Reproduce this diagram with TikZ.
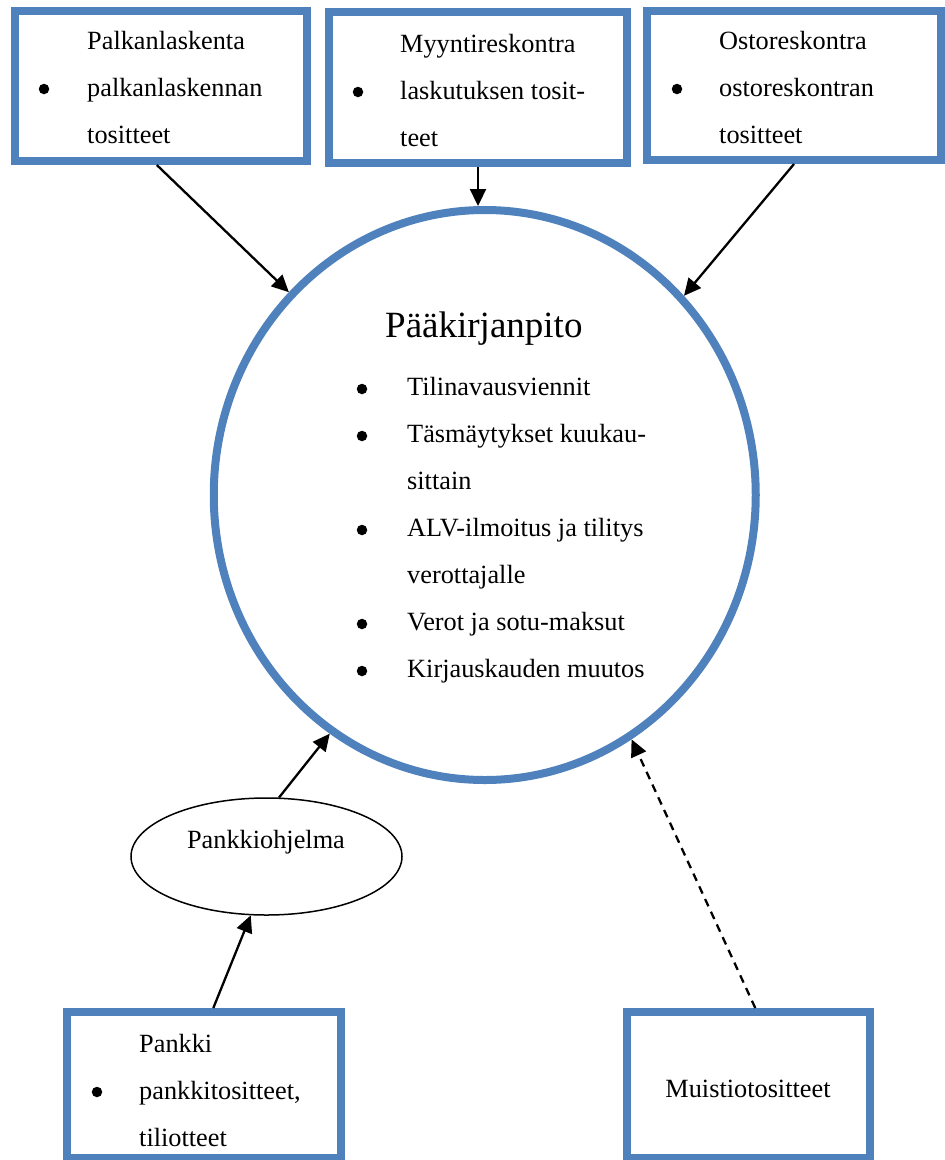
\documentclass[tikz,border=0pt]{standalone}
\usepackage{fontspec}
\setmainfont{Liberation Serif}
\usetikzlibrary{shapes.geometric,arrows.meta,calc}
\definecolor{boxblue}{RGB}{79,129,189}
\begin{document}
\begin{tikzpicture}[x=1pt,y=-1pt,
  bluebox/.style={draw=boxblue,line width=8pt,inner sep=0pt,fill=white},
  txt/.style={anchor=base west,inner sep=0pt,font=\fontsize{26.3}{30}\selectfont},
  ctxt/.style={anchor=base,inner sep=0pt,font=\fontsize{26.3}{30}\selectfont},
  bigtxt/.style={anchor=base west,inner sep=0pt,font=\fontsize{37}{42}\selectfont},
  bul/.style={circle,fill=black,inner sep=0pt,minimum size=10.5pt},
  conn/.style={line width=2.3pt,-{Triangle[length=17pt,width=16pt]}},
  dconn/.style={conn,dash pattern=on 8pt off 6pt}]
\useasboundingbox (0,0) rectangle (945,1160);

% main circle
\node[ellipse,draw=boxblue,line width=8pt,minimum width=542pt,minimum height=570pt,inner sep=0pt] (main) at (484.75,495) {};

% boxes
\node[bluebox,minimum width=292pt,minimum height=150pt] (b1) at (161,86) {};
\node[bluebox,minimum width=298pt,minimum height=151pt] (b2) at (478,87.5) {};
\node[bluebox,minimum width=294pt,minimum height=149pt] (b3) at (794,85.5) {};
\node[bluebox,minimum width=274pt,minimum height=146pt] (b4) at (204,1085) {};
\node[bluebox,minimum width=243pt,minimum height=146pt] (b5) at (748.5,1085) {};

% small ellipse
\node[ellipse,draw=black,line width=1.5pt,minimum width=271pt,minimum height=117pt,inner sep=0pt] (pank) at (266.5,856.5) {};

% box 1 text
\node[txt] (t1a) at (87,49) {Palkanlaskenta};
\node[bul] (u1) at (44,89) {};
\node[txt] (t1b) at (87,96) {palkanlaskennan};
\node[txt] (t1c) at (87,143) {tositteet};

% box 2 text
\node[txt] (t2a) at (400,52) {Myyntireskontra};
\node[bul] (u2) at (358,92) {};
\node[txt] (t2b) at (400,99) {laskutuksen tosit-};
\node[txt] (t2c) at (400,146) {teet};

% box 3 text
\node[txt] (t3a) at (719,49) {Ostoreskontra};
\node[bul] (u3) at (677,89) {};
\node[txt] (t3b) at (719,96) {ostoreskontran};
\node[txt] (t3c) at (719,143) {tositteet};

% box 4 text
\node[txt] (t4a) at (139,1052) {Pankki};
\node[bul] (u4) at (97,1092) {};
\node[txt] (t4b) at (139,1099) {pankkitositteet,};
\node[txt] (t4c) at (139,1146) {tiliotteet};

% box 5 text
\node[ctxt] (t5) at (748,1097) {Muistiotositteet};

% small ellipse text
\node[ctxt] (tp) at (266,848) {Pankkiohjelma};

% main circle text
\node[bigtxt] (title) at (385,337) {Pääkirjanpito};
\node[bul] (m1) at (362,389) {};
\node[txt] (l1) at (407,395) {Tilinavausviennit};
\node[bul] (m2) at (362,436) {};
\node[txt] (l2) at (407,442) {Täsmäytykset kuukau-};
\node[txt] (l3) at (407,489) {sittain};
\node[bul] (m3) at (362,530) {};
\node[txt] (l4) at (407,536) {ALV-ilmoitus ja tilitys};
\node[txt] (l5) at (407,583) {verottajalle};
\node[bul] (m4) at (362,624) {};
\node[txt] (l6) at (407,630) {Verot ja sotu-maksut};
\node[bul] (m5) at (362,671) {};
\node[txt] (l7) at (407,677) {Kirjauskauden muutos};

% connectors
\draw[conn] ($(b1.south west)!0.486!(b1.south east)$) -- (main.134);
\draw[conn] (b2.south) -- (b2.south |- main.north);
\draw[conn] (b3.south) -- (main.45);
\draw[conn] (pank.78) -- (main.237);
\draw[conn] ($(b4.north west)!0.533!(b4.north east)$) -- (pank.255);
\draw[dconn] ($(b5.north west)!0.527!(b5.north east)$) -- (main.301);
\end{tikzpicture}
\end{document}
